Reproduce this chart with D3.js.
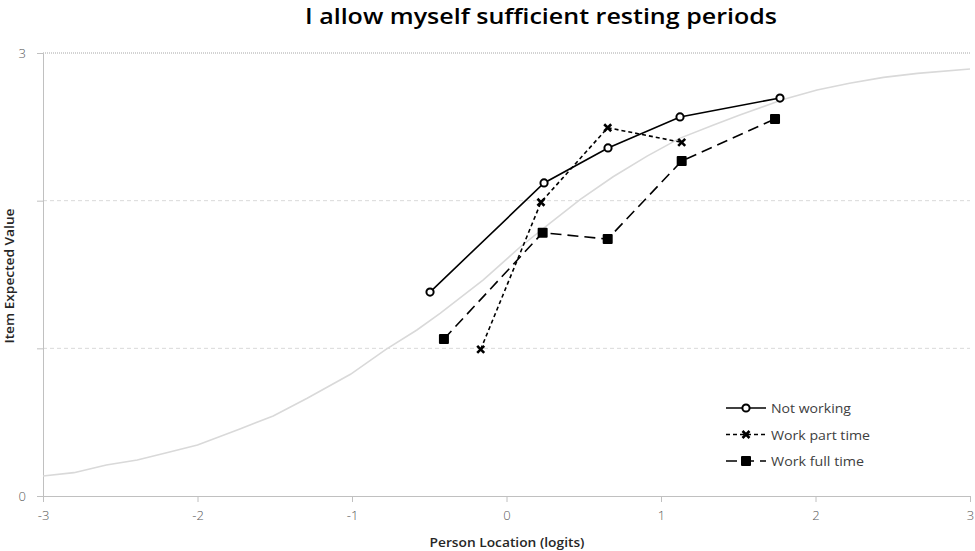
<!DOCTYPE html>
<html><head><meta charset="utf-8">
<script src="https://cdn.jsdelivr.net/npm/d3@7"></script>
<style>
html,body{margin:0;padding:0;background:#fff;}
svg{display:block;}
</style></head>
<body>
<svg id="chart" width="975" height="551"></svg>
<script>
// ---- data ----
const xTicks = [-3, -2, -1, 0, 1, 2, 3];
const yTicks = [0, 1, 2, 3];
const yTickLabels = ["0", "", "", "3"];
const seriesNames = ["Not working", "Work part time", "Work full time"];

const notWorkingX = [-0.495, 0.243, 0.657, 1.123, 1.770];
const notWorkingY = [1.381, 2.120, 2.357, 2.567, 2.695];

const partTimeX = [-0.167, 0.223, 0.655, 1.134];
const partTimeY = [0.993, 1.989, 2.494, 2.395];

const fullTimeX = [-0.405, 0.234, 0.655, 1.134, 1.738];
const fullTimeY = [1.063, 1.783, 1.740, 2.269, 2.553];

const curveX = [-3.00, -2.80, -2.59, -2.39, -2.20, -2.00, -1.73, -1.51, -1.29, -1.01, -0.78, -0.58, -0.43, -0.15, 0.09, 0.28, 0.48, 0.69, 0.91, 1.12, 1.34, 1.51, 1.79, 2.01, 2.22, 2.44, 2.66, 3.00];
const curveY = [0.135, 0.158, 0.210, 0.244, 0.293, 0.345, 0.452, 0.542, 0.662, 0.824, 0.993, 1.124, 1.237, 1.463, 1.688, 1.847, 2.011, 2.162, 2.302, 2.422, 2.513, 2.580, 2.685, 2.750, 2.795, 2.835, 2.862, 2.892];

// ---- layout ----
const svg = d3.select("#chart");
const x = d3.scaleLinear().domain([-3, 3]).range([43, 970]);
const y = d3.scaleLinear().domain([0, 3]).range([496, 53]);
const font = "'Open Sans', sans-serif";

// title
svg.append("text").attr("x", 541).attr("y", 24)
  .attr("text-anchor", "middle").attr("font-family", font)
  .attr("font-size", 21).attr("font-weight", 600).attr("fill", "#000")
  .attr("textLength", 472).attr("lengthAdjust", "spacingAndGlyphs")
  .text("I allow myself sufficient resting periods");

// gridlines
yTicks.forEach(t => {
  if (t === 0) return;
  svg.append("line")
    .attr("x1", x(-3)).attr("x2", x(3)).attr("y1", y(t)).attr("y2", y(t))
    .attr("stroke", t === 3 ? "#a6a6a6" : "#d9d9d9")
    .attr("stroke-width", 1)
    .attr("stroke-dasharray", t === 3 ? "1,1" : "4,3");
});

// axes
const xAxis = svg.append("g").attr("transform", `translate(0,${y(0)})`)
  .call(d3.axisBottom(x).tickValues(xTicks).tickSize(6).tickPadding(9).tickFormat(d => String(d)));
const yAxis = svg.append("g").attr("transform", `translate(${x(-3)},0)`)
  .call(d3.axisLeft(y).tickValues(yTicks).tickSize(6).tickPadding(11).tickFormat((d, i) => yTickLabels[i]));
[xAxis, yAxis].forEach(g => {
  g.select(".domain").attr("stroke", "#c0c0c0");
  g.selectAll(".tick line").attr("stroke", "#c0c0c0");
  g.selectAll(".tick text").attr("fill", "#595959").attr("font-family", font)
    .attr("font-size", 13).attr("font-weight", 300);
});

// axis titles
svg.append("text").attr("x", 507).attr("y", 547).attr("text-anchor", "middle")
  .attr("font-family", font).attr("font-size", 12).attr("font-weight", 600).attr("fill", "#262626")
  .attr("textLength", 155).attr("lengthAdjust", "spacingAndGlyphs")
  .text("Person Location (logits)");
svg.append("text").attr("transform", "translate(14,276) rotate(-90)").attr("text-anchor", "middle")
  .attr("font-family", font).attr("font-size", 12.5).attr("font-weight", 600).attr("fill", "#262626")
  .attr("textLength", 135).attr("lengthAdjust", "spacingAndGlyphs")
  .text("Item Expected Value");

// expected curve
const line = d3.line().x(d => x(d[0])).y(d => y(d[1]));
svg.append("path").datum(curveX.map((v, i) => [v, curveY[i]]))
  .attr("d", line).attr("fill", "none").attr("stroke", "#d9d9d9").attr("stroke-width", 1.6);

const series = [
  {name: seriesNames[0], xs: notWorkingX, ys: notWorkingY, dash: null, marker: "circle"},
  {name: seriesNames[1], xs: partTimeX, ys: partTimeY, dash: "4,3", marker: "x"},
  {name: seriesNames[2], xs: fullTimeX, ys: fullTimeY, dash: "11,6", marker: "square"}
];

function drawMarker(g, type, cx, cy) {
  if (type === "circle") {
    g.append("circle").attr("cx", cx).attr("cy", cy).attr("r", 3.6)
      .attr("fill", "#fff").attr("stroke", "#000").attr("stroke-width", 2);
  } else if (type === "x") {
    const s = 3.5;
    g.append("path").attr("d", `M${cx - s},${cy - s}L${cx + s},${cy + s}M${cx - s},${cy + s}L${cx + s},${cy - s}`)
      .attr("stroke", "#000").attr("stroke-width", 2.6).attr("fill", "none");
  } else {
    g.append("rect").attr("x", cx - 5).attr("y", cy - 5).attr("width", 10).attr("height", 10)
      .attr("rx", 1).attr("fill", "#000");
  }
}

series.forEach(s => {
  const pts = s.xs.map((v, i) => [v, s.ys[i]]);
  svg.append("path").datum(pts).attr("d", line).attr("fill", "none")
    .attr("stroke", "#000").attr("stroke-width", 1.6)
    .attr("stroke-dasharray", s.dash);
  const g = svg.append("g");
  pts.forEach(p => drawMarker(g, s.marker, x(p[0]), y(p[1])));
});

// legend
const legendLens = [80, 99, 93];
series.forEach((s, i) => {
  const ly = 408 + i * 26.5;
  svg.append("line").attr("x1", 726).attr("x2", 766).attr("y1", ly).attr("y2", ly)
    .attr("stroke", "#000").attr("stroke-width", 1.6)
    .attr("stroke-dasharray", s.dash ? (i === 1 ? "4,3" : "11,6") : null);
  drawMarker(svg.append("g"), s.marker, 746, ly);
  svg.append("text").attr("x", 771).attr("y", ly + 5)
    .attr("font-family", font).attr("font-size", 13).attr("fill", "#404040")
    .attr("textLength", legendLens[i]).attr("lengthAdjust", "spacingAndGlyphs")
    .text(s.name);
});
</script>
</body></html>
